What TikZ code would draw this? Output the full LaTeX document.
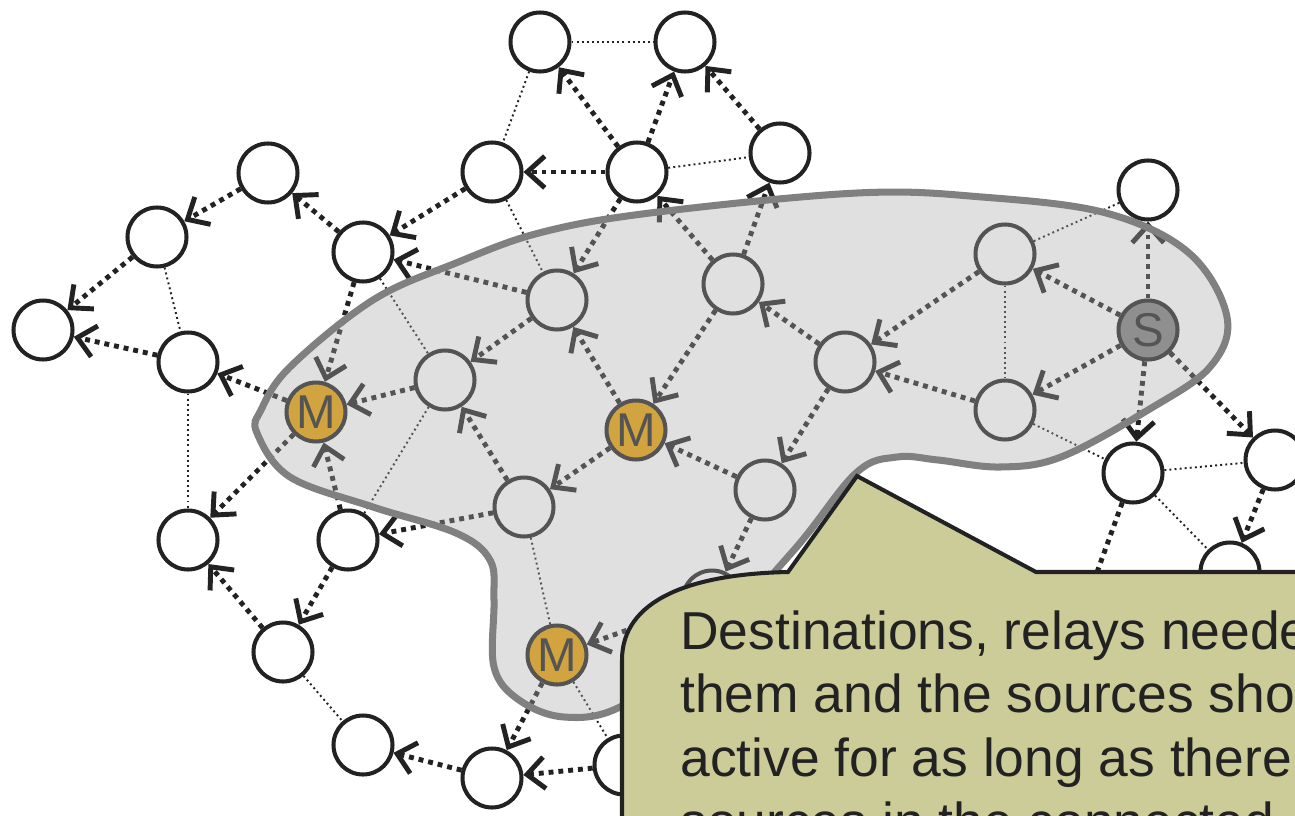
\documentclass[tikz,border=0pt]{standalone}
\usepackage{fontspec}
\setmainfont{Liberation Sans}
\usetikzlibrary{arrows.meta}
\definecolor{ink}{RGB}{34,34,34}
\definecolor{haze}{RGB}{171,171,171}
\definecolor{rim}{RGB}{128,128,128}
\definecolor{gold}{RGB}{232,160,0}
\definecolor{note}{RGB}{204,204,153}

\begin{document}
\begin{tikzpicture}[x=0.02cm,y=-0.02cm,
    nd/.style={circle,draw=ink,line width=2.3pt,fill=white,minimum size=1.18cm,inner sep=0pt,
      font=\fontsize{27}{27}\selectfont,text=ink},
    mnode/.style={nd,fill=gold},
    snode/.style={nd,fill=rim},
    link/.style={ink,line width=1.1pt,dash pattern=on 1.1pt off 1.8pt},
    flow/.style={ink,line width=2.8pt,dash pattern=on 2.8pt off 2.8pt,
      -{Straight Barb[length=10pt,width=18pt,line width=2.8pt]}}]
  \useasboundingbox (0,0) rectangle (1295,815);
  \clip (0,0) rectangle (1295,815);

  %% the nodes (pixel grid, y down)
  \node[nd] (a1) at (540,42) {};
  \node[nd] (a2) at (685,42) {};
  \node[nd] (b1) at (492,172) {};
  \node[nd] (b2) at (637,172) {};
  \node[nd] (b3) at (780,153) {};
  \node[nd] (c1) at (268,173) {};
  \node[nd] (c2) at (157,237) {};
  \node[nd] (c3) at (363,252) {};
  \node[nd] (d1) at (43,330) {};
  \node[nd] (d2) at (188,362) {};
  \node[nd] (e1) at (1148,190) {};
  \node[nd] (g1) at (557,300) {};
  \node[nd] (g2) at (733,284) {};
  \node[nd] (g3) at (1005,254) {};
  \node[nd] (g4) at (445,380) {};
  \node[nd] (g5) at (845,362) {};
  \node[snode] (s) at (1148,330) {S};
  \node[nd] (g6) at (1005,410) {};
  \node[mnode] (m1) at (316,412) {M};
  \node[mnode] (m2) at (636,430) {M};
  \node[nd] (g7) at (524,507) {};
  \node[nd] (g8) at (765,490) {};
  \node[mnode] (m3) at (557,655) {M};
  \node[nd] (g9) at (712,600) {};
  \node[nd] (f1) at (188,540) {};
  \node[nd] (f2) at (348,540) {};
  \node[nd] (f3) at (283,652) {};
  \node[nd] (f4) at (363,745) {};
  \node[nd] (f5) at (492,778) {};
  \node[nd] (f6) at (624,765) {};
  \node[nd] (r1) at (1133,473) {};
  \node[nd] (r2) at (1275,460) {};
  \node[nd] (r3) at (1230,572) {};
  \node[nd] (r4) at (1075,633) {};

  %% radio links
  \foreach \u/\v in {a1/a2,a1/b1,b2/b3,b1/g1,c2/d2,d2/f1,c3/g4,g4/f2,f3/f4,g7/m3,
                     m3/f6,g3/g6,g3/e1,g6/r1,r1/r2,r1/r3}
    \draw[link] (\u) -- (\v);

  %% forwarding tree from the source
  \foreach \u/\v in {s/g3,s/g6,s/e1,s/r2,s/r1,g3/g5,g6/g5,g5/g2,g5/g8,g2/b3,g2/b2,
                     g2/m2,g8/m2,m2/g1,m2/g7,b2/g1,g1/c3,g1/g4,g7/g4,g4/m1,g7/f2,
                     g8/g9,g9/m3,m3/f5,f6/f5,f5/f4,c3/m1,m1/d2,f2/m1,m1/f1,f2/f3,
                     f3/f1,d2/d1,c2/d1,c1/c2,c3/c1,b1/c3,b2/b1,b2/a1,b2/a2,b3/a2,
                     r2/r3,r1/r4}
    \draw[flow] (\u) -- (\v);

  %% active region
  \draw[rim,line width=4pt,fill=haze,fill opacity=0.37]
    plot[smooth cycle,tension=0.6] coordinates {
      (261,410) (290,367) (373,300) (456,263) (539,233) (650,213) (857,193)
      (982,197) (1106,213) (1189,253) (1227,317) (1210,367) (1148,410)
      (1061,457) (1000,467) (938,460) (897,457) (856,473) (794,550) (700,650)
      (620,707) (564,717) (519,700) (494,667) (494,600) (490,560) (456,533)
      (373,507) (290,477) (257,433)};

  %% callout
  \draw[ink,line width=2.3pt,fill=note,line join=miter]
    (622,840) -- (622,660) .. controls (622,600) and (690,574) .. (788,572)
    -- (857,476) -- (1036,572) -- (1320,572) -- (1320,840) -- cycle;
  \node[anchor=north west,inner sep=0pt,align=left,text=ink,
        font=\fontsize{30.4}{36.3}\selectfont] (msg) at (680,610)
    {Destinations, relays needed\\them and the sources should\\
     active for as long as there are\\sources in the connected};
\end{tikzpicture}
\end{document}
